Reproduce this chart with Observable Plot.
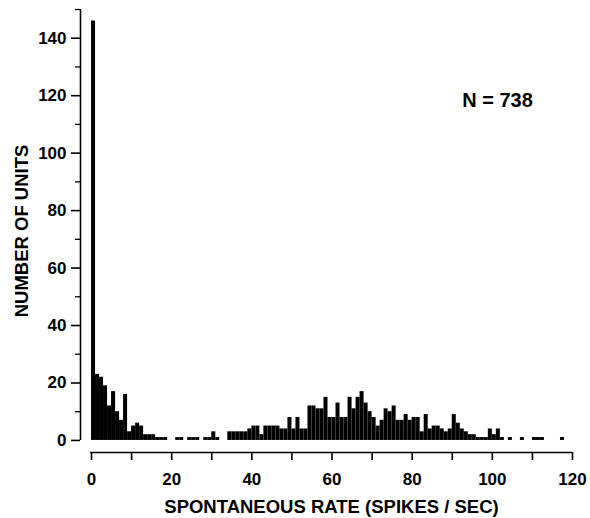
<!DOCTYPE html>
<html><head><meta charset="utf-8">
<script src="https://cdn.jsdelivr.net/npm/d3@7"></script>
<script src="https://cdn.jsdelivr.net/npm/@observablehq/plot@0.6"></script>
<style>body{margin:0;background:#fff} svg{display:block}</style>
</head><body><div id="chart"></div>
<script>
// Histogram counts, one per 1 spike/sec bin starting at 0
const counts = [
  146,23,22,19,12,17,10,7,16,3,
  5,6,5,2,2,2,1,1,1,0,
  0,1,1,0,1,1,1,0,1,1,
  3,1,0,0,3,3,3,3,3,4,
  5,5,2,5,5,5,5,4,4,8,
  4,8,4,4,12,12,11,11,15,8,
  8,13,8,8,15,11,15,17,13,10,
  8,5,7,11,10,12,7,7,9,7,
  8,8,3,9,4,5,5,4,3,4,
  9,6,4,3,2,2,1,1,1,4,
  2,4,1,0,1,0,0,1,0,0,
  1,1,1,0,0,0,0,1
];
const binStart = 0;
const binWidth = 1;
const xTicksMajor = [0,10,20,30,40,50,60,70,80,90,100,110,120];
const xTickLabels = [0,20,40,60,80,100,120];
const yTicksMajor = [0,20,40,60,80,100,120,140];
const yTicksMinor = [10,30,50,70,90,110,130,150];
const xTitle = "SPONTANEOUS RATE (SPIKES / SEC)";
const yTitle = "NUMBER OF UNITS";
const note = "N = 738";

const data = counts.map((c, i) => ({x1: binStart + i * binWidth, x2: binStart + (i + 1) * binWidth, n: c}))
  .filter(d => d.n > 0);

const chart = Plot.plot({
  width: 590, height: 518,
  marginLeft: 80, marginRight: 18, marginTop: 9, marginBottom: 66,
  x: {domain: [-2.75, 120]},
  y: {domain: [-4.2, 150]},
  style: {fontFamily: "'Liberation Sans', Arial, sans-serif", fontWeight: "bold", fontSize: "17px", color: "#000", background: "#fff"},
  marks: [
    Plot.rect(data, {x1: "x1", x2: "x2", y1: 0, y2: "n", fill: "#000"}),
    Plot.ruleX([-2.75], {y1: 0, y2: 150, strokeWidth: 1.6}),
    Plot.ruleY([-4.2], {x1: -0.25, x2: 120, strokeWidth: 1.6}),
    Plot.axisY({ticks: yTicksMajor, tickSize: 9, tickPadding: 5, strokeWidth: 1.6, label: null, fontSize: 17, fontWeight: "bold"}),
    Plot.axisY({ticks: yTicksMinor, tickSize: 5, strokeWidth: 1.3, text: null, label: null}),
    Plot.axisX({ticks: xTicksMajor, tickSize: 8, strokeWidth: 1.6, text: null, label: null}),
    Plot.axisX({ticks: xTickLabels, tickSize: 0, tickPadding: 20, label: null, fontSize: 17, fontWeight: "bold"}),
    Plot.text([xTitle], {frameAnchor: "bottom", textAnchor: "middle", dx: 5, dy: 60, fontSize: 18.5, fontWeight: "bold"}),
    Plot.text([yTitle], {frameAnchor: "left", textAnchor: "middle", rotate: -90, dx: -58, fontSize: 18.5, fontWeight: "bold"}),
    Plot.text([note], {frameAnchor: "top-right", textAnchor: "middle", dx: -75, dy: 83, fontSize: 20, fontWeight: "bold"})
  ]
});
document.getElementById("chart").appendChild(chart);
</script>
</body></html>
